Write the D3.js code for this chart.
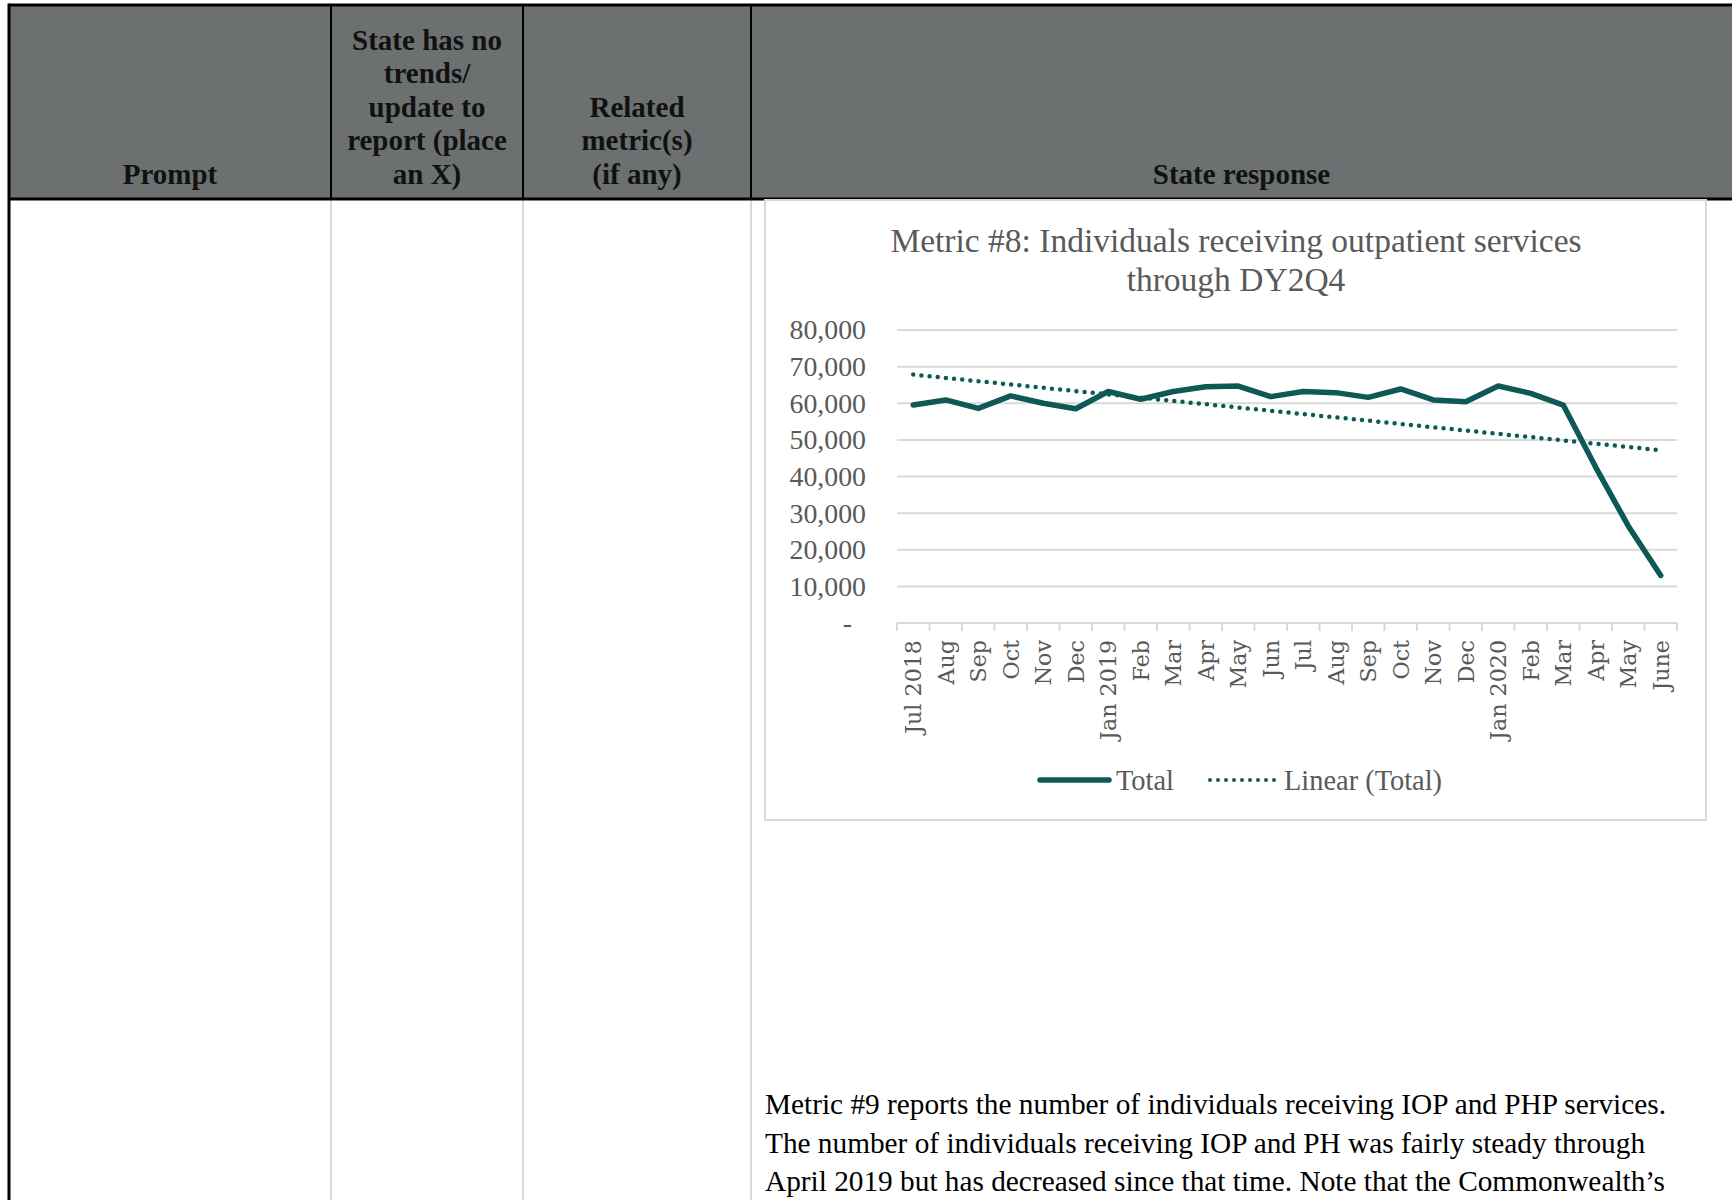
<!DOCTYPE html>
<html>
<head>
    <title>Metric #8</title>
    <script src="https://cdn.jsdelivr.net/npm/d3@7/dist/d3.min.js"></script>
</head>
<style>
body { margin: 0; background: #fff; }
svg text { font-family: "Liberation Serif", "Times New Roman", serif; }
</style>
<body>
<script>

// data
var months = ["Jul 2018", "Aug", "Sep", "Oct", "Nov", "Dec", "Jan 2019", "Feb", "Mar", "Apr", "May", "Jun",
              "Jul ", "Aug ", "Sep ", "Oct ", "Nov ", "Dec ", "Jan 2020", "Feb ", "Mar ", "Apr ", "May ", "June"];
var totals = [59500, 60900, 58600, 62000, 60000, 58500, 63200, 61100, 63200, 64500, 64700, 61800,
              63200, 62900, 61600, 63900, 60900, 60400, 64700, 62700, 59500, 42500, 26500, 13000];
var yTicks = [0, 10000, 20000, 30000, 40000, 50000, 60000, 70000, 80000];
var titleLines = ["Metric #8: Individuals receiving outpatient services", "through DY2Q4"];
var legendLabels = ["Total", "Linear (Total)"];
var headers = [
    ["Prompt"],
    ["State has no", "trends/", "update to", "report (place", "an X)"],
    ["Related", "metric(s)", "(if any)"],
    ["State response"]
];
var bodyLines = [
    "Metric #9 reports the number of individuals receiving IOP and PHP services.",
    "The number of individuals receiving IOP and PH was fairly steady through",
    "April 2019 but has decreased since that time. Note that the Commonwealth\u2019s"
];

var W = 1732, H = 1200;
var teal = "#0d5955";
var grey = "#595959";

var svg = d3.select("body").append("svg")
    .attr("width", W)
    .attr("height", H);

// ---- table ----
var colX = [9, 331, 523, 751, W];
var headTop = 5, headBottom = 199;

svg.append("rect")
    .attr("x", colX[0]).attr("y", headTop)
    .attr("width", W - colX[0]).attr("height", headBottom - headTop)
    .attr("fill", "#6c7070");

// light body separators, dark ones in the header
colX.slice(1, 4).forEach(function(x) {
    svg.append("line")
        .attr("x1", x).attr("x2", x)
        .attr("y1", headBottom).attr("y2", H)
        .attr("stroke", "#d9d9d9").attr("stroke-width", 2);
    svg.append("line")
        .attr("x1", x).attr("x2", x)
        .attr("y1", headTop).attr("y2", headBottom)
        .attr("stroke", "#000").attr("stroke-width", 2);
});
svg.append("line")
    .attr("x1", colX[0]).attr("x2", colX[0])
    .attr("y1", headTop - 1.5).attr("y2", H)
    .attr("stroke", "#000").attr("stroke-width", 3);
svg.append("line")
    .attr("x1", colX[0]).attr("x2", W)
    .attr("y1", headTop).attr("y2", headTop)
    .attr("stroke", "#000").attr("stroke-width", 3);
svg.append("line")
    .attr("x1", colX[0]).attr("x2", W)
    .attr("y1", headBottom).attr("y2", headBottom)
    .attr("stroke", "#000").attr("stroke-width", 3);

headers.forEach(function(lines, i) {
    var cx = (colX[i] + colX[i + 1]) / 2;
    var n = lines.length;
    svg.append("g").selectAll("text")
        .data(lines)
        .enter()
        .append("text")
        .attr("x", cx)
        .attr("y", function(d, j) { return 184 - (n - 1 - j) * 33.6; })
        .attr("text-anchor", "middle")
        .attr("font-size", "29px")
        .attr("font-weight", "bold")
        .attr("fill", "#111")
        .text(function(d) { return d; });
});

// ---- chart box ----
svg.append("rect")
    .attr("x", 765).attr("y", 200)
    .attr("width", 941).attr("height", 620)
    .attr("fill", "#fff")
    .attr("stroke", "#d9d9d9").attr("stroke-width", 2);

svg.append("g").selectAll("text")
    .data(titleLines)
    .enter()
    .append("text")
    .attr("x", 1236)
    .attr("y", function(d, i) { return 252 + i * 39; })
    .attr("text-anchor", "middle")
    .attr("font-size", "33.5px")
    .attr("fill", grey)
    .text(function(d) { return d; });

var left = 897, right = 1677;
var x = d3.scaleBand().domain(months).range([left, right]).padding(0);
var y = d3.scaleLinear().domain([0, 80000]).range([623, 330]);
var cx = function(d) { return x(d) + x.bandwidth() / 2; };

// gridlines
svg.append("g").selectAll("line")
    .data(yTicks.slice(1))
    .enter()
    .append("line")
    .attr("x1", left).attr("x2", right)
    .attr("y1", function(d) { return y(d); })
    .attr("y2", function(d) { return y(d); })
    .attr("stroke", "#d9d9d9").attr("stroke-width", 2);

var yAxis = svg.append("g")
    .attr("transform", "translate(866,0)")
    .call(d3.axisLeft(y).tickValues(yTicks).tickSize(0).tickPadding(0)
        .tickFormat(function(d) { return d === 0 ? "-" : d3.format(",")(d); }));
yAxis.select(".domain").remove();
yAxis.selectAll("text")
    .attr("font-family", "Liberation Serif, serif")
    .attr("font-size", "27.8px")
    .attr("fill", grey)
    .attr("dx", function(d) { return d === 0 ? -14 : 0; });

// x axis line + boundary ticks
svg.append("line")
    .attr("x1", left).attr("x2", right)
    .attr("y1", y(0)).attr("y2", y(0))
    .attr("stroke", "#d9d9d9").attr("stroke-width", 2);
svg.append("g").selectAll("line")
    .data(months.concat([null]))
    .enter()
    .append("line")
    .attr("x1", function(d) { return d === null ? right : x(d); })
    .attr("x2", function(d) { return d === null ? right : x(d); })
    .attr("y1", y(0)).attr("y2", y(0) + 8)
    .attr("stroke", "#d9d9d9").attr("stroke-width", 2);

svg.append("g").selectAll("text")
    .data(months)
    .enter()
    .append("text")
    .attr("transform", function(d) { return "translate(" + cx(d) + ",640) rotate(-90)"; })
    .attr("text-anchor", "end")
    .attr("dy", "0.36em")
    .attr("font-size", "22.2px")
    .style("font-family", "'DejaVu Serif', serif")
    .attr("fill", grey)
    .text(function(d) { return d.trim(); });

// linear trend (least squares, like Excel's trendline)
var n = totals.length;
var mx = (n - 1) / 2, my = d3.mean(totals);
var sxy = d3.sum(totals, function(v, i) { return (i - mx) * (v - my); });
var sxx = d3.sum(totals, function(v, i) { return (i - mx) * (i - mx); });
var slope = sxy / sxx;
var trend = [0, n - 1].map(function(i) { return [i, my + slope * (i - mx)]; });

svg.append("path")
    .datum(trend)
    .attr("d", d3.line()
        .x(function(d) { return cx(months[d[0]]); })
        .y(function(d) { return y(d[1]); }))
    .attr("fill", "none")
    .attr("stroke", teal)
    .attr("stroke-width", 4.5)
    .attr("stroke-linecap", "round")
    .attr("stroke-dasharray", "0 8.2");

svg.append("path")
    .datum(totals)
    .attr("d", d3.line()
        .x(function(d, i) { return cx(months[i]); })
        .y(function(d) { return y(d); }))
    .attr("fill", "none")
    .attr("stroke", teal)
    .attr("stroke-width", 5.5)
    .attr("stroke-linejoin", "round")
    .attr("stroke-linecap", "round");

// legend
var lg = svg.append("g");
lg.append("line")
    .attr("x1", 1040).attr("x2", 1109).attr("y1", 780).attr("y2", 780)
    .attr("stroke", teal).attr("stroke-width", 5.5).attr("stroke-linecap", "round");
lg.append("text")
    .attr("x", 1116).attr("y", 790)
    .attr("font-size", "28.4px").attr("fill", grey)
    .text(legendLabels[0]);
lg.append("line")
    .attr("x1", 1210).attr("x2", 1282).attr("y1", 780).attr("y2", 780)
    .attr("stroke", teal).attr("stroke-width", 4).attr("stroke-linecap", "round")
    .attr("stroke-dasharray", "0 8");
lg.append("text")
    .attr("x", 1284).attr("y", 790)
    .attr("font-size", "28.4px").attr("fill", grey)
    .text(legendLabels[1]);

// paragraph under the chart
svg.append("g").selectAll("text")
    .data(bodyLines)
    .enter()
    .append("text")
    .attr("x", 765)
    .attr("y", function(d, i) { return 1114 + i * 38.5; })
    .attr("font-size", "29.3px")
    .attr("fill", "#000")
    .text(function(d) { return d; });

</script>
</body>
</html>
